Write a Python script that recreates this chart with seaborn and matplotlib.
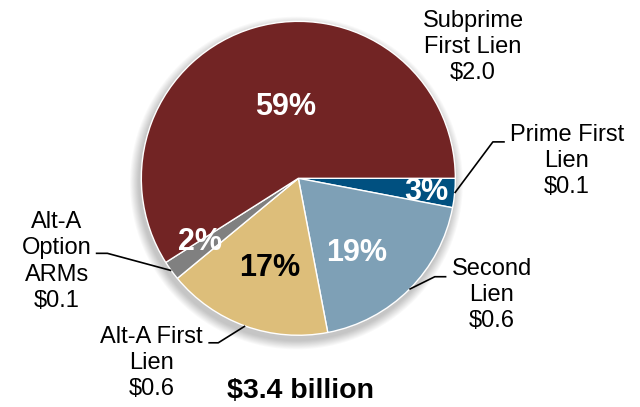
import numpy as np
import matplotlib
matplotlib.use("Agg")
import matplotlib.pyplot as plt
from matplotlib.patches import Circle
import seaborn as sns

# Loan categories, drawn clockwise from 3 o'clock
categories = ["Prime First\nLien", "Second\nLien", "Alt-A First\nLien",
              "Alt-A\nOption\nARMs", "Subprime\nFirst Lien"]
shares_pct = [3, 19, 17, 2, 59]
amounts_bn = [0.1, 0.6, 0.6, 0.1, 2.0]
total_label = "$3.4 billion"

colors = ["#005080", "#7EA0B6", "#DDBE7A", "#808080", "#722424"]
pct_colors = ["white", "white", "black", "white", "white"]

sns.set_theme(style="white")
plt.rcParams["font.family"] = ["Liberation Sans", "DejaVu Sans"]

fig = plt.figure(figsize=(6.4, 4.07), dpi=100)
ax = fig.add_axes([0, 0, 1, 1])

# soft drop shadow under the pie
for k in range(10):
    ax.add_patch(Circle((-0.012, -0.03), 1.0 + 0.006 * (10 - k),
                        facecolor="black", edgecolor="none",
                        alpha=0.022, zorder=0))

wedges, _ = ax.pie(shares_pct, colors=colors, startangle=0,
                   counterclock=False, radius=1.0,
                   wedgeprops=dict(edgecolor="white", linewidth=1.0, zorder=2))

# percentage labels inside the wedges
pct_pos = [(0.813, -0.085), (0.372, -0.478), (-0.180, -0.573),
           (-0.625, -0.404), (-0.080, 0.452)]
for val, (x, y), c in zip(shares_pct, pct_pos, pct_colors):
    ax.text(x, y, f"{val}%", ha="center", va="center", fontsize=22,
            fontweight="bold", color=c, zorder=5)

# category labels with dollar amounts
label_pos = [(1.71, 0.11), (1.232, -0.743), (-0.935, -1.176),
             (-1.537, -0.53), (1.113, 0.836)]
for cat, amt, (x, y) in zip(categories, amounts_bn, label_pos):
    ax.text(x, y, f"{cat}\n${amt:.1f}", ha="center", va="center",
            fontsize=17, linespacing=1.24, color="black", zorder=5)

# leader lines: wedge edge -> elbow -> short horizontal tick
elbows = {0: ((1.239, 0.232), (1.315, 0.232)),
          1: ((0.869, -0.627), (0.943, -0.627)),
          2: ((-0.510, -1.048), (-0.573, -1.048)),
          3: ((-1.216, -0.478), (-1.290, -0.478))}
for i, (p1, p2) in elbows.items():
    w = wedges[i]
    mid = np.deg2rad((w.theta1 + w.theta2) / 2)
    x0, y0 = np.cos(mid) * 1.0, np.sin(mid) * 1.0
    ax.plot([x0, p1[0], p2[0]], [y0, p1[1], p2[1]], color="black",
            linewidth=1.2, solid_capstyle="butt", zorder=4)

ax.text(0.016, -1.352, total_label, ha="center", va="center",
        fontsize=20.5, fontweight="bold", color="black")

ax.set_xlim(-1.900, 2.176)
ax.set_ylim(-1.457, 1.136)
ax.set_aspect("auto")
ax.axis("off")

fig.savefig("out.png", dpi=100)
